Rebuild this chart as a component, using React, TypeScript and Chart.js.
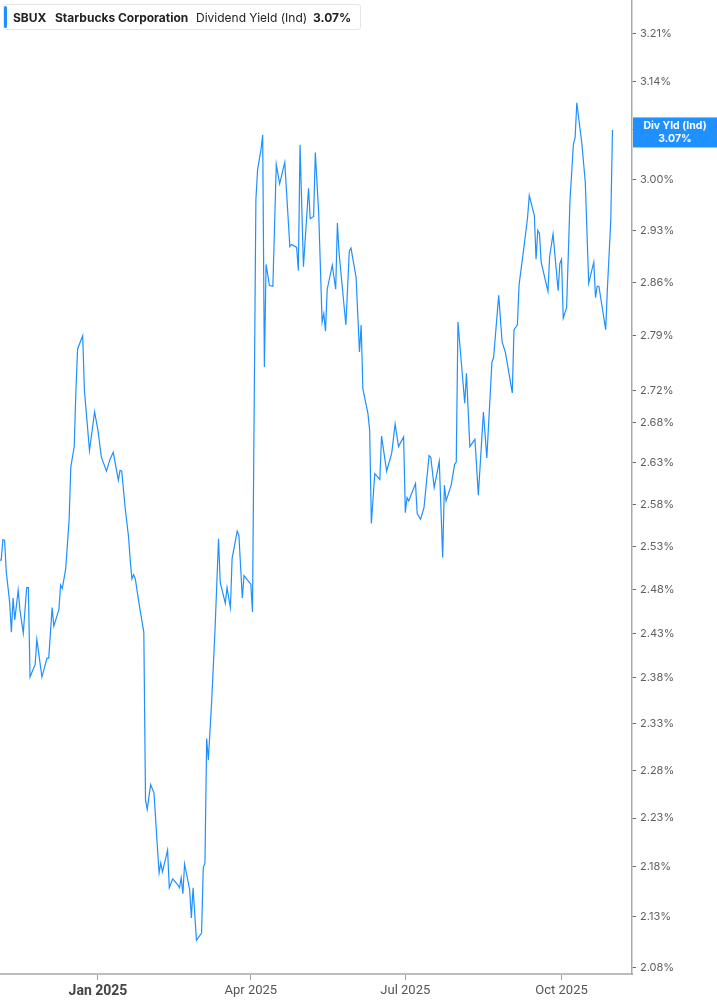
import React, { useEffect, useRef } from "react";
import { Chart, registerables } from "chart.js";

Chart.register(...registerables);

// SBUX indicated dividend yield (%)
const dates = [
  "2024-11-04", "2024-11-05", "2024-11-06", "2024-11-07", "2024-11-08", "2024-11-10", "2024-11-11", "2024-11-12",
  "2024-11-13", "2024-11-15", "2024-11-16", "2024-11-18", "2024-11-20", "2024-11-21", "2024-11-22", "2024-11-25",
  "2024-11-26", "2024-11-29", "2024-12-02", "2024-12-03", "2024-12-05", "2024-12-06", "2024-12-09", "2024-12-10",
  "2024-12-11", "2024-12-13", "2024-12-15", "2024-12-16", "2024-12-18", "2024-12-19", "2024-12-20", "2024-12-23",
  "2024-12-24", "2024-12-26", "2024-12-27", "2024-12-30", "2025-01-01", "2025-01-03", "2025-01-06", "2025-01-08",
  "2025-01-10", "2025-01-13", "2025-01-14", "2025-01-15", "2025-01-17", "2025-01-19", "2025-01-20", "2025-01-21",
  "2025-01-22", "2025-01-23", "2025-01-25", "2025-01-28", "2025-01-29", "2025-01-30", "2025-02-01", "2025-02-03",
  "2025-02-05", "2025-02-06", "2025-02-07", "2025-02-08", "2025-02-11", "2025-02-12", "2025-02-14", "2025-02-17",
  "2025-02-18", "2025-02-19", "2025-02-20", "2025-02-21", "2025-02-24", "2025-02-25", "2025-02-26", "2025-02-28",
  "2025-03-03", "2025-03-04", "2025-03-05", "2025-03-06", "2025-03-07", "2025-03-09", "2025-03-11", "2025-03-13",
  "2025-03-14", "2025-03-17", "2025-03-18", "2025-03-20", "2025-03-21", "2025-03-24", "2025-03-25", "2025-03-27",
  "2025-03-28", "2025-04-01", "2025-04-02", "2025-04-04", "2025-04-05", "2025-04-07", "2025-04-08", "2025-04-09",
  "2025-04-10", "2025-04-12", "2025-04-14", "2025-04-16", "2025-04-18", "2025-04-21", "2025-04-24", "2025-04-25",
  "2025-04-28", "2025-04-29", "2025-04-30", "2025-05-02", "2025-05-05", "2025-05-06", "2025-05-08", "2025-05-09",
  "2025-05-11", "2025-05-13", "2025-05-14", "2025-05-15", "2025-05-16", "2025-05-19", "2025-05-21", "2025-05-22",
  "2025-05-23", "2025-05-27", "2025-05-29", "2025-05-30", "2025-06-02", "2025-06-04", "2025-06-05", "2025-06-06",
  "2025-06-09", "2025-06-10", "2025-06-11", "2025-06-13", "2025-06-16", "2025-06-17", "2025-06-20", "2025-06-23",
  "2025-06-25", "2025-06-27", "2025-06-30", "2025-07-01", "2025-07-02", "2025-07-03", "2025-07-07", "2025-07-08",
  "2025-07-10", "2025-07-12", "2025-07-15", "2025-07-16", "2025-07-18", "2025-07-21", "2025-07-23", "2025-07-24",
  "2025-07-25", "2025-07-28", "2025-07-30", "2025-07-31", "2025-08-01", "2025-08-05", "2025-08-06", "2025-08-08",
  "2025-08-11", "2025-08-13", "2025-08-16", "2025-08-18", "2025-08-21", "2025-08-22", "2025-08-25", "2025-08-27",
  "2025-08-29", "2025-09-02", "2025-09-03", "2025-09-05", "2025-09-06", "2025-09-09", "2025-09-11", "2025-09-12",
  "2025-09-15", "2025-09-16", "2025-09-17", "2025-09-18", "2025-09-19", "2025-09-23", "2025-09-24", "2025-09-26",
  "2025-09-29", "2025-09-30", "2025-10-01", "2025-10-02", "2025-10-04", "2025-10-06", "2025-10-08", "2025-10-09",
  "2025-10-10", "2025-10-13", "2025-10-15", "2025-10-17", "2025-10-20", "2025-10-21", "2025-10-22", "2025-10-23",
  "2025-10-27", "2025-10-28", "2025-10-30", "2025-10-31",
];

const yields = [
  2.514, 2.514, 2.538, 2.537, 2.5, 2.465, 2.431, 2.47,
  2.445, 2.479, 2.457, 2.43, 2.482, 2.482, 2.381, 2.395,
  2.423, 2.381, 2.402, 2.402, 2.459, 2.438, 2.457, 2.485,
  2.481, 2.504, 2.561, 2.625, 2.65, 2.719, 2.773, 2.79,
  2.721, 2.67, 2.645, 2.693, 2.67, 2.637, 2.62, 2.634,
  2.643, 2.609, 2.621, 2.62, 2.576, 2.541, 2.514, 2.492,
  2.497, 2.492, 2.466, 2.431, 2.249, 2.239, 2.265, 2.256,
  2.2, 2.174, 2.184, 2.175, 2.197, 2.159, 2.168, 2.162,
  2.159, 2.169, 2.153, 2.183, 2.157, 2.129, 2.159, 2.107,
  2.114, 2.179, 2.184, 2.314, 2.291, 2.356, 2.437, 2.539,
  2.488, 2.464, 2.482, 2.459, 2.516, 2.548, 2.543, 2.47,
  2.496, 2.486, 2.454, 2.972, 3.014, 3.042, 3.063, 2.75,
  2.884, 2.856, 2.855, 3.021, 2.994, 3.024, 2.908, 2.911,
  2.907, 2.876, 3.049, 2.881, 2.988, 2.946, 2.949, 3.038,
  2.953, 2.808, 2.819, 2.796, 2.851, 2.883, 2.851, 2.94,
  2.899, 2.804, 2.902, 2.906, 2.867, 2.769, 2.804, 2.722,
  2.691, 2.67, 2.557, 2.617, 2.61, 2.663, 2.62, 2.642,
  2.678, 2.65, 2.662, 2.57, 2.588, 2.584, 2.605, 2.569,
  2.562, 2.576, 2.639, 2.637, 2.6, 2.632, 2.517, 2.603,
  2.584, 2.603, 2.628, 2.631, 2.808, 2.704, 2.742, 2.65,
  2.659, 2.591, 2.693, 2.636, 2.756, 2.762, 2.843, 2.782,
  2.768, 2.717, 2.798, 2.804, 2.857, 2.91, 2.948, 2.978,
  2.95, 2.891, 2.93, 2.926, 2.887, 2.848, 2.895, 2.925,
  2.849, 2.885, 2.891, 2.813, 2.827, 2.972, 3.05, 3.059,
  3.109, 3.05, 2.996, 2.859, 2.887, 2.84, 2.855, 2.855,
  2.798, 2.851, 2.943, 3.07,
];

const yTickValues = [
  2.08, 2.13, 2.18, 2.23, 2.28, 2.33, 2.38, 2.43, 2.48, 2.53, 2.58,
  2.63, 2.68, 2.72, 2.79, 2.86, 2.93, 3.0, 3.07, 3.14, 3.21,
];
const xTickDates = ["2025-01-01", "2025-04-01", "2025-07-01", "2025-10-01"];
const xTickLabels = ["Jan 2025", "Apr 2025", "Jul 2025", "Oct 2025"];

const ticker = "SBUX";
const company = "Starbucks Corporation";
const metric = "Dividend Yield (Ind)";
const tagLabel = "Div Yld (Ind)";

const BASE = Date.UTC(2025, 0, 1);
const toDay = (s: string) => {
  const [y, m, d] = s.split("-").map(Number);
  return (Date.UTC(y, m - 1, d) - BASE) / 86400000;
};

const LINE = "#1e90ff";
const lastValue = yields[yields.length - 1];

const lastValueTag = {
  id: "lastValueTag",
  afterDraw(chart: any) {
    const { ctx, chartArea, scales } = chart;
    const y = scales.y.getPixelForValue(lastValue);
    const left = chartArea.right + 1;
    const cx = (left + chart.width) / 2;
    ctx.save();
    ctx.fillStyle = LINE;
    ctx.fillRect(left, y - 12.5, chart.width - left, 30);
    ctx.fillStyle = "#ffffff";
    ctx.font = "bold 10.5px Inter, Roboto, sans-serif";
    ctx.textAlign = "center";
    ctx.textBaseline = "middle";
    ctx.fillText(tagLabel, cx, y - 4);
    ctx.fillText(lastValue.toFixed(2) + "%", cx, y + 9);
    ctx.restore();
  },
};

const App = () => {
  const canvasRef = useRef<HTMLCanvasElement>(null);
  const chartRef = useRef<Chart | null>(null);

  useEffect(() => {
    document.body.style.margin = "0";
    if (!canvasRef.current) return;
    if (chartRef.current) chartRef.current.destroy();

    const points = dates.map((d, i) => ({ x: toDay(d), y: yields[i] }));
    const xTicks = xTickDates.map(toDay);

    chartRef.current = new Chart(canvasRef.current, {
      type: "line",
      data: {
        datasets: [
          {
            label: metric,
            data: points,
            borderColor: LINE,
            borderWidth: 1.2,
            pointRadius: 0,
            tension: 0,
            fill: false,
          },
        ],
      },
      options: {
        responsive: false,
        animation: false,
        layout: { padding: 0 },
        plugins: {
          legend: { display: false },
          tooltip: { enabled: false },
        },
        scales: {
          x: {
            type: "linear",
            min: -57.7,
            max: 314.5,
            afterBuildTicks: (axis: any) => {
              axis.ticks = xTicks.map((v) => ({ value: v }));
            },
            afterFit: (axis: any) => {
              axis.height = 31;
              axis.paddingLeft = 0;
              axis.paddingRight = 0;
            },
            border: { display: true, color: "#bdbdbd", width: 2 },
            grid: {
              drawOnChartArea: false,
              drawTicks: true,
              tickLength: 6,
              tickColor: "#9e9e9e",
            },
            ticks: {
              autoSkip: false,
              maxRotation: 0,
              padding: 3,
              color: (ctx: any) => (ctx.index === 0 ? "#444" : "#555"),
              font: (ctx: any) => ({
                family: "'Liberation Sans Narrow', Roboto, sans-serif",
                size: ctx.index === 0 ? 14 : 13,
                weight: ctx.index === 0 ? "bold" : "normal",
              }),
              callback: (v: any) => {
                const i = xTicks.indexOf(Number(v));
                return i >= 0 ? xTickLabels[i] : "";
              },
            },
          },
          y: {
            type: "logarithmic",
            position: "right",
            min: 2.0742,
            max: 3.261,
            afterBuildTicks: (axis: any) => {
              axis.ticks = yTickValues.map((v) => ({ value: v }));
            },
            afterFit: (axis: any) => {
              axis.width = 85;
              axis.paddingTop = 0;
              axis.paddingBottom = 0;
            },
            border: { display: true, color: "#aaaaaa", width: 1.5 },
            grid: {
              drawOnChartArea: false,
              drawTicks: true,
              tickLength: 4,
              tickColor: "#666",
            },
            ticks: {
              autoSkip: false,
              padding: 4,
              color: "#5f5f5f",
              font: { family: "Inter, Roboto, sans-serif", size: 11 },
              callback: (v: any) => Number(v).toFixed(2) + "%",
            },
          },
        },
      },
      plugins: [lastValueTag],
    });

    return () => {
      if (chartRef.current) {
        chartRef.current.destroy();
        chartRef.current = null;
      }
    };
  }, []);

  const text: React.CSSProperties = {
    position: "absolute",
    top: 0,
    lineHeight: "26px",
    fontSize: 12,
    color: "#222",
    whiteSpace: "nowrap",
  };

  return (
    <div
      style={{
        position: "relative",
        width: 717,
        height: 1005,
        fontFamily: "Inter, Roboto, sans-serif",
      }}
    >
      <canvas ref={canvasRef} width={717} height={1005} style={{ display: "block" }} />
      <div
        style={{
          position: "absolute",
          left: 3,
          top: 4,
          width: 358,
          height: 26,
          background: "#fff",
          border: "1px solid #e6e6e6",
          borderRadius: 3,
          boxSizing: "border-box",
        }}
      >
        <div
          style={{
            position: "absolute",
            left: 0,
            top: 1,
            width: 3,
            height: 22,
            background: LINE,
            borderRadius: 2,
          }}
        />
        <span style={{ ...text, left: 9, fontWeight: 700 }}>{ticker}</span>
        <span style={{ ...text, left: 51, fontWeight: 700 }}>{company}</span>
        <span style={{ ...text, left: 192 }}>{metric}</span>
        <span style={{ ...text, left: 309, fontWeight: 700 }}>{lastValue.toFixed(2)}%</span>
      </div>
    </div>
  );
};

export default App;
